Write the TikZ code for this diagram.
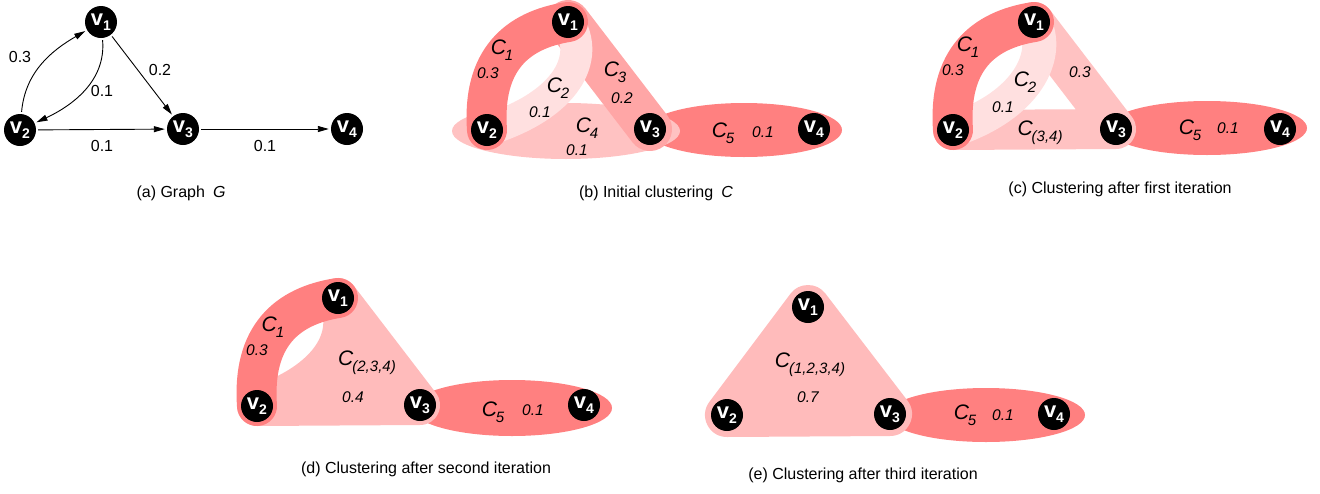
\documentclass[tikz,border=0pt]{standalone}
\usepackage{fontspec}
\setmainfont{Liberation Sans}
\usetikzlibrary{arrows.meta}
\pgfdeclarelayer{background}
\pgfsetlayers{background,main}
\definecolor{clDark}{HTML}{FF8080}
\definecolor{clMid}{HTML}{FFA6A6}
\definecolor{clLight}{HTML}{FFC2C2}
\definecolor{clPale}{HTML}{FFE0E0}
\definecolor{clMerge}{HTML}{FFBBBB}
\newcommand{\vname}[1]{{\fontsize{22}{22}\selectfont\bfseries v\raisebox{-5pt}{\fontsize{14}{14}\selectfont#1}}} % vertex label v_i
\newcommand{\cname}[1]{{\fontsize{21}{21}\selectfont\itshape C\kern-1pt\raisebox{-6pt}{\fontsize{15}{15}\selectfont#1}}} % cluster label C_i
\tikzset{
	vtx/.style={circle, fill=black, text=white, minimum size=32pt, inner sep=0pt},
	band/.style={line width=40pt, line cap=round, line join=round},
	clab/.style={inner sep=0pt},
	wlab/.style={inner sep=0pt, font=\fontsize{15.5}{15.5}\selectfont\itshape},
	elab/.style={inner sep=0pt, font=\fontsize{16}{16}\selectfont},
	captxt/.style={inner sep=0pt, font=\fontsize{16}{18}\selectfont},
	arc/.style={-{Triangle[length=11pt,width=6pt]}, line width=0.9pt, shorten >=2pt, shorten <=2pt},
}

\begin{document}
\begin{tikzpicture}[x=1pt, y=1pt]
	\useasboundingbox (0,0) rectangle (1320,-493);
	% (a) graph G
	\begin{scope}
		\foreach \i/\x/\y in {1/101/-22, 2/20/-130, 3/183/-129, 4/347/-129} {
			\node[vtx] (a\i) at (\x,\y) {\vname{\i}}; % vertices
		};
		\draw[arc] (a2) to[out=85, in=210] (a1);
		\draw[arc] (a1) to[out=-85, in=25] (a2);
		\draw[arc] (a1) -- (a3);
		\draw[arc] (a2) -- (a3);
		\draw[arc] (a3) -- (a4);
		\node[elab] (a-w21) at (20,-57) {0.3};
		\node[elab] (a-w12) at (102,-91) {0.1};
		\node[elab] (a-w13) at (160,-70) {0.2};
		\node[elab] (a-w23) at (102,-146) {0.1};
		\node[elab] (a-w34) at (265,-146) {0.1};
	\end{scope}
	% (b) initial clustering
	\begin{scope}[shift={(467,0)}]
		\foreach \i/\x/\y in {1/101/-22, 2/20/-130, 3/183/-129, 4/347/-129} {
			\node[vtx] (b\i) at (\x,\y) {\vname{\i}};
		};
		\begin{pgfonlayer}{background}
			\fill[clDark] (277,-130) ellipse [x radius=98, y radius=27]; % C5
			\fill[clLight] (99,-131) ellipse [x radius=114, y radius=28]; % C4
			\draw[band, clMid, line width=44pt] (b1.center) -- (b3.center); % C3
			\draw[band, clPale, line width=32pt] (b1.center) .. controls (124,-58) and (100,-105) .. (b2.center); % C2
			\draw[band, clDark] (b2.center) .. controls (15,-60) and (50,-30) .. (b1.center); % C1
		\end{pgfonlayer}
		\node[clab] (b-c1) at (35,-50) {\cname{1}};
		\node[wlab] (b-w1) at (21,-73) {0.3};
		\node[clab] (b-c2) at (91,-88) {\cname{2}};
		\node[wlab] (b-w2) at (73,-112) {0.1};
		\node[clab] (b-c3) at (148,-72) {\cname{3}};
		\node[wlab] (b-w3) at (155,-98) {0.2};
		\node[clab] (b-c4) at (120,-128) {\cname{4}};
		\node[wlab] (b-w4) at (110,-150) {0.1};
		\node[clab] (b-c5) at (256,-133) {\cname{5}};
		\node[wlab] (b-w5) at (296,-132) {0.1};
	\end{scope}
	% (c) after first iteration
	\begin{scope}[shift={(933,0)}]
		\foreach \i/\x/\y in {1/101/-22, 2/20/-130, 3/183/-129, 4/347/-129} {
			\node[vtx] (c\i) at (\x,\y) {\vname{\i}};
		};
		\begin{pgfonlayer}{background}
			\fill[clDark] (274,-128) ellipse [x radius=100, y radius=27]; % C5
			\draw[band, clLight] (c2.center) -- (c3.center) -- (c1.center); % C(3,4)
			\draw[band, clPale, line width=34pt] (c1.center) .. controls (118,-55) and (95,-105) .. (c2.center); % C2
			\draw[band, clDark] (c2.center) .. controls (15,-60) and (50,-30) .. (c1.center); % C1
		\end{pgfonlayer}
		\node[clab] (c-c1) at (35,-47) {\cname{1}};
		\node[wlab] (c-w1) at (20,-70) {0.3};
		\node[clab] (c-c2) at (92,-82) {\cname{2}};
		\node[wlab] (c-w2) at (70,-107) {0.1};
		\node[wlab] (c-w34) at (147,-72) {0.3};
		\node[clab] (c-c34) at (107,-133) {\cname{(3,4)}};
		\node[clab] (c-c5) at (257,-130) {\cname{5}};
		\node[wlab] (c-w5) at (295,-128) {0.1};
	\end{scope}
	% (d) after second iteration
	\begin{scope}[shift={(237,-276)}]
		\foreach \i/\x/\y in {1/101/-22, 2/20/-130, 3/183/-129, 4/347/-129} {
			\node[vtx] (d\i) at (\x,\y) {\vname{\i}};
		};
		\begin{pgfonlayer}{background}
			\fill[clDark] (275,-132) ellipse [x radius=100, y radius=28]; % C5
			\filldraw[band, clMerge] (d1.center) .. controls (118,-60) and (95,-105) .. (d2.center) -- (d3.center) -- cycle; % C(2,3,4)
			\draw[band, clDark] (d2.center) .. controls (15,-60) and (50,-30) .. (d1.center); % C1
		\end{pgfonlayer}
		\node[clab] (d-c1) at (36,-51) {\cname{1}};
		\node[wlab] (d-w1) at (20,-74) {0.3};
		\node[clab] (d-c234) at (130,-87) {\cname{(2,3,4)}};
		\node[wlab] (d-w234) at (116,-121) {0.4};
		\node[clab] (d-c5) at (256,-136) {\cname{5}};
		\node[wlab] (d-w5) at (296,-134) {0.1};
	\end{scope}
	% (e) after third iteration
	\begin{scope}[shift={(707,-285)}]
		\foreach \i/\x/\y in {1/101/-22, 2/20/-130, 3/183/-129, 4/347/-129} {
			\node[vtx] (e\i) at (\x,\y) {\vname{\i}};
		};
		\begin{pgfonlayer}{background}
			\fill[clDark] (279,-130) ellipse [x radius=99, y radius=27]; % C5
			\filldraw[band, clMerge, line width=44pt] (e1.center) -- (e2.center) -- (e3.center) -- cycle; % C(1,2,3,4)
		\end{pgfonlayer}
		\node[clab] (e-c1234) at (103,-80) {\cname{(1,2,3,4)}};
		\node[wlab] (e-w1234) at (101,-112) {0.7};
		\node[clab] (e-c5) at (258,-130) {\cname{5}};
		\node[wlab] (e-w5) at (296,-130) {0.1};
	\end{scope}
	% captions
	\node[captxt] (capa) at (181,-193) {(a) Graph\enspace\textit{G}};
	\node[captxt] (capb) at (656,-193) {(b) Initial clustering\enspace\textit{C}};
	\node[captxt] (capc) at (1120,-189) {(c) Clustering after first iteration};
	\node[captxt] (capd) at (426,-469) {(d) Clustering after second iteration};
	\node[captxt] (cape) at (863,-475) {(e) Clustering after third iteration};
\end{tikzpicture}
\end{document}
